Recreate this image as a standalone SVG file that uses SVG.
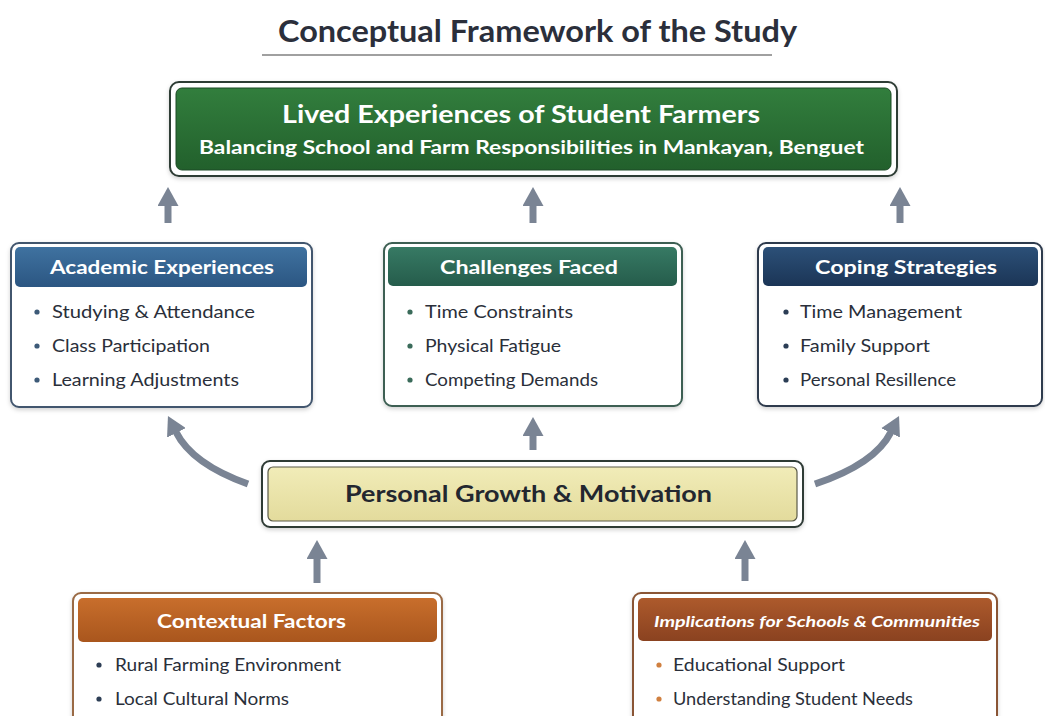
<svg xmlns="http://www.w3.org/2000/svg" width="1045" height="716" viewBox="0 0 1045 716">
  <defs>
    <linearGradient id="gGreen" x1="0" y1="0" x2="0" y2="1">
      <stop offset="0" stop-color="#327e3d"/>
      <stop offset="1" stop-color="#22602c"/>
    </linearGradient>
    <linearGradient id="gBlue" x1="0" y1="0" x2="0" y2="1">
      <stop offset="0" stop-color="#3f72a0"/>
      <stop offset="1" stop-color="#2b5682"/>
    </linearGradient>
    <linearGradient id="gTeal" x1="0" y1="0" x2="0" y2="1">
      <stop offset="0" stop-color="#377a64"/>
      <stop offset="1" stop-color="#255c4b"/>
    </linearGradient>
    <linearGradient id="gNavy" x1="0" y1="0" x2="0" y2="1">
      <stop offset="0" stop-color="#2c5078"/>
      <stop offset="1" stop-color="#1b3556"/>
    </linearGradient>
    <linearGradient id="gOrange" x1="0" y1="0" x2="0" y2="1">
      <stop offset="0" stop-color="#c86e2c"/>
      <stop offset="1" stop-color="#a9561d"/>
    </linearGradient>
    <linearGradient id="gBrown" x1="0" y1="0" x2="0" y2="1">
      <stop offset="0" stop-color="#ad5a2c"/>
      <stop offset="1" stop-color="#8a4220"/>
    </linearGradient>
    <linearGradient id="gYellow" x1="0" y1="0" x2="0" y2="1">
      <stop offset="0" stop-color="#f1ecb8"/>
      <stop offset="1" stop-color="#e3db9c"/>
    </linearGradient>
    <filter id="shadow" x="-5%" y="-10%" width="110%" height="130%">
      <feDropShadow dx="0" dy="2" stdDeviation="2" flood-color="#000" flood-opacity="0.18"/>
    </filter>
    <marker id="head" markerUnits="userSpaceOnUse" markerWidth="20" markerHeight="21" viewBox="0 0 20 21" refX="1" refY="10.5" orient="auto">
      <path d="M0,0 L19,10.5 L0,21 z" fill="#7a8494"/>
    </marker>
    <style>
      text { font-family: Lato, "Open Sans", "Liberation Sans", sans-serif; }
      .title { font-size: 30px; font-weight: 700; fill: #2b2f3b; }
      .main1 { font-size: 24px; font-weight: 700; fill: #ffffff; }
      .main2 { font-size: 19px; font-weight: 700; fill: #ffffff; }
      .hdr { font-size: 18px; font-weight: 700; fill: #ffffff; }
      .hdr-i { font-size: 16px; font-weight: 700; font-style: italic; fill: #ffffff; }
      .item { font-size: 17px; fill: #2a2f3a; }
      .core { font-size: 23px; font-weight: 700; fill: #23272f; }
      .card { fill: #ffffff; stroke-width: 2; filter: url(#shadow); }
      .arrow { fill: none; stroke: #7a8494; stroke-width: 7; marker-end: url(#head); }
    </style>
  </defs>

  <rect width="1045" height="716" fill="#ffffff"/>

  <!-- heading -->
  <g id="heading">
    <text class="title" x="537.5" y="42" text-anchor="middle" textLength="519" lengthAdjust="spacingAndGlyphs">Conceptual Framework of the Study</text>
    <line x1="262" y1="55" x2="772" y2="55" stroke="#a0a0a0" stroke-width="2"/>
  </g>

  <!-- connectors -->
  <g id="connectors">
    <path class="arrow" d="M168,223 L168,205"/>
    <path class="arrow" d="M533,223 L533,205"/>
    <path class="arrow" d="M900,223 L900,205"/>
    <path class="arrow" d="M533,450 L533,435"/>
    <path class="arrow" d="M248,484 Q192,464 176,432"/>
    <path class="arrow" d="M815,484 Q875,464 891,432"/>
    <path class="arrow" d="M317,583 L317,558"/>
    <path class="arrow" d="M745,581 L745,558"/>
  </g>

  <!-- top node -->
  <g id="lived-experiences">
    <rect x="170" y="82" width="727" height="94" rx="9" fill="#ffffff" stroke="#2e3c35" stroke-width="2" filter="url(#shadow)"/>
    <rect x="176" y="88" width="715" height="82" rx="6" fill="url(#gGreen)" stroke="#1d4a26" stroke-width="1"/>
    <text class="main1" x="521" y="123" text-anchor="middle" textLength="478" lengthAdjust="spacingAndGlyphs">Lived Experiences of Student Farmers</text>
    <text class="main2" x="531.5" y="154" text-anchor="middle" textLength="665" lengthAdjust="spacingAndGlyphs">Balancing School and Farm Responsibilities in Mankayan, Benguet</text>
  </g>

  <!-- academic experiences -->
  <g id="academic-experiences">
    <rect class="card" x="11" y="243" width="301" height="164" rx="8" stroke="#42566e"/>
    <rect x="15" y="247" width="292" height="40" rx="5" fill="url(#gBlue)"/>
    <text class="hdr" x="162" y="274" text-anchor="middle" textLength="224" lengthAdjust="spacingAndGlyphs">Academic Experiences</text>
    <g fill="#3d5a78">
      <circle cx="37" cy="312" r="2.6"/>
      <circle cx="37" cy="346" r="2.6"/>
      <circle cx="37" cy="380" r="2.6"/>
    </g>
    <text class="item" x="52" y="318" textLength="203" lengthAdjust="spacingAndGlyphs">Studying &amp; Attendance</text>
    <text class="item" x="52" y="352" textLength="158" lengthAdjust="spacingAndGlyphs">Class Participation</text>
    <text class="item" x="52" y="386" textLength="187" lengthAdjust="spacingAndGlyphs">Learning Adjustments</text>
  </g>

  <!-- challenges faced -->
  <g id="challenges-faced">
    <rect class="card" x="384" y="243" width="298" height="163" rx="8" stroke="#3c5e52"/>
    <rect x="388" y="247" width="289" height="39" rx="5" fill="url(#gTeal)"/>
    <text class="hdr" x="529" y="274" text-anchor="middle" textLength="178" lengthAdjust="spacingAndGlyphs">Challenges Faced</text>
    <g fill="#3a6b5a">
      <circle cx="410" cy="312" r="2.6"/>
      <circle cx="410" cy="346" r="2.6"/>
      <circle cx="410" cy="380" r="2.6"/>
    </g>
    <text class="item" x="425" y="318" textLength="148" lengthAdjust="spacingAndGlyphs">Time Constraints</text>
    <text class="item" x="425" y="352" textLength="136" lengthAdjust="spacingAndGlyphs">Physical Fatigue</text>
    <text class="item" x="425" y="386" textLength="173" lengthAdjust="spacingAndGlyphs">Competing Demands</text>
  </g>

  <!-- coping strategies -->
  <g id="coping-strategies">
    <rect class="card" x="758" y="243" width="284" height="163" rx="8" stroke="#2e3b4d"/>
    <rect x="763" y="247" width="275" height="39" rx="5" fill="url(#gNavy)"/>
    <text class="hdr" x="906" y="274" text-anchor="middle" textLength="182" lengthAdjust="spacingAndGlyphs">Coping Strategies</text>
    <g fill="#2b3d55">
      <circle cx="786" cy="312" r="2.6"/>
      <circle cx="786" cy="346" r="2.6"/>
      <circle cx="786" cy="380" r="2.6"/>
    </g>
    <text class="item" x="800" y="318" textLength="162" lengthAdjust="spacingAndGlyphs">Time Management</text>
    <text class="item" x="800" y="352" textLength="130" lengthAdjust="spacingAndGlyphs">Family Support</text>
    <text class="item" x="800" y="386" textLength="156" lengthAdjust="spacingAndGlyphs">Personal Resillence</text>
  </g>

  <!-- central node -->
  <g id="personal-growth">
    <rect x="262" y="461" width="541" height="66" rx="8" fill="#ffffff" stroke="#2e3a35" stroke-width="2" filter="url(#shadow)"/>
    <rect x="268" y="467" width="529" height="54" rx="5" fill="url(#gYellow)" stroke="#5a5a48" stroke-width="1.2"/>
    <text class="core" x="528.5" y="502" text-anchor="middle" textLength="367" lengthAdjust="spacingAndGlyphs">Personal Growth &amp; Motivation</text>
  </g>

  <!-- contextual factors -->
  <g id="contextual-factors">
    <rect class="card" x="73" y="593" width="369" height="140" rx="8" stroke="#9a6a45"/>
    <rect x="78" y="598" width="359" height="44" rx="5" fill="url(#gOrange)"/>
    <text class="hdr" x="251.5" y="628" text-anchor="middle" textLength="189" lengthAdjust="spacingAndGlyphs">Contextual Factors</text>
    <g fill="#2d3e55">
      <circle cx="99" cy="665" r="2.6"/>
      <circle cx="99" cy="699" r="2.6"/>
    </g>
    <text class="item" x="115" y="671" textLength="226" lengthAdjust="spacingAndGlyphs">Rural Farming Environment</text>
    <text class="item" x="115" y="705" textLength="174" lengthAdjust="spacingAndGlyphs">Local Cultural Norms</text>
  </g>

  <!-- implications -->
  <g id="implications">
    <rect class="card" x="633" y="593" width="364" height="140" rx="8" stroke="#8a5535"/>
    <rect x="638" y="598" width="354" height="43" rx="5" fill="url(#gBrown)"/>
    <text class="hdr-i" x="817" y="627" text-anchor="middle" textLength="326" lengthAdjust="spacingAndGlyphs">Implications for Schools &amp; Communities</text>
    <g fill="#d08040">
      <circle cx="659" cy="665" r="2.6"/>
      <circle cx="659" cy="699" r="2.6"/>
    </g>
    <text class="item" x="673" y="671" textLength="172" lengthAdjust="spacingAndGlyphs">Educational Support</text>
    <text class="item" x="673" y="705" textLength="240" lengthAdjust="spacingAndGlyphs">Understanding Student Needs</text>
  </g>
</svg>
